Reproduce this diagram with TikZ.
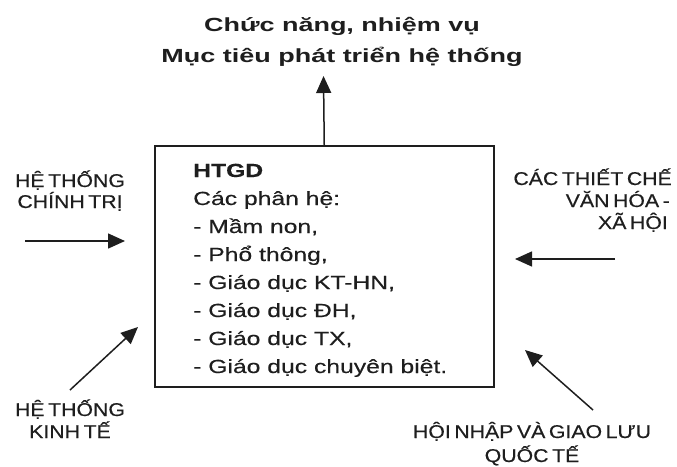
\documentclass[tikz,border=0pt]{standalone}
\usepackage{fontspec}
\setmainfont{Liberation Sans}
\newfontfamily\boxfont[FakeStretch=1.3,FakeBold=0.4]{Liberation Sans}
\newfontfamily\titlefont[FakeStretch=1.42]{Liberation Sans Bold}
\newfontfamily\capsfont[FakeStretch=1.15,WordSpace=0.6,FakeBold=0.4]{Liberation Sans}
\usetikzlibrary{arrows.meta}
\definecolor{ink}{HTML}{1E1E1E}
\tikzset{
  conn/.style={line width=1.5pt, draw=ink, -{Triangle[length=17pt,width=15pt]}},
  boxline/.style={inner sep=0pt, anchor=base west, font=\boxfont\fontsize{19}{22}\selectfont, text=ink},
  title/.style={inner sep=0pt, anchor=base, font=\titlefont\fontsize{19}{22}\selectfont, text=ink},
  caps/.style={inner sep=0pt, font=\capsfont\fontsize{18.5}{22}\selectfont, text=ink},
}
\begin{document}
\begin{tikzpicture}[x=1pt,y=-1pt]
\useasboundingbox (0,0) rectangle (677,466);
% main box
\node[draw=ink, line width=1.5pt, minimum width=339pt, minimum height=241pt, inner sep=0pt, anchor=north west] (box) at (154,145) {};
\node[boxline, font=\boxfont\bfseries\fontsize{19}{22}\selectfont] (l0) at (193,177) {HTGD};
\node[boxline] (l1) at (193,205) {Các phân hệ:};
\node[boxline] (l2) at (193,233) {- Mầm non,};
\node[boxline] (l3) at (193,261) {- Phổ thông,};
\node[boxline] (l4) at (193,289) {- Giáo dục KT-HN,};
\node[boxline] (l5) at (193,317) {- Giáo dục ĐH,};
\node[boxline] (l6) at (193,345) {- Giáo dục TX,};
\node[boxline] (l7) at (193,373) {- Giáo dục chuyên biệt.};
% title
\node[title] (t1) at (342,31) {Chức năng, nhiệm vụ};
\node[title] (t2) at (342,62) {Mục tiêu phát triển hệ thống};
\coordinate (ttip) at (323.5,76);
\draw[conn] (box.north) -- (ttip);
% left top
\node[caps, anchor=base] (ct1) at (70,187) {HỆ THỐNG};
\node[caps, anchor=base] (ct2) at (70,208) {CHÍNH TRỊ};
\coordinate (a1s) at (25,241);
\coordinate (a1e) at (125,241);
\draw[conn] (a1s) -- (a1e);
% left bottom
\node[caps, anchor=base] (kt1) at (70,416) {HỆ THỐNG};
\node[caps, anchor=base] (kt2) at (70,438) {KINH TẾ};
\coordinate (a2s) at (70,390);
\coordinate (a2e) at (138,327);
\draw[conn] (a2s) -- (a2e);
% right top
\node[caps, anchor=base east] (vh1) at (672,185) {CÁC THIẾT CHẾ};
\node[caps, anchor=base east] (vh2) at (670,207) {VĂN HÓA -};
\node[caps, anchor=base east] (vh3) at (668,229) {XÃ HỘI};
\coordinate (a3s) at (615,259);
\coordinate (a3e) at (515,259);
\draw[conn] (a3s) -- (a3e);
% right bottom
\node[caps, anchor=base] (hn1) at (532,438) {HỘI NHẬP VÀ GIAO LƯU};
\node[caps, anchor=base] (hn2) at (532,462) {QUỐC TẾ};
\coordinate (a4s) at (593,410);
\coordinate (a4e) at (525,350);
\draw[conn] (a4s) -- (a4e);
\end{tikzpicture}
\end{document}
